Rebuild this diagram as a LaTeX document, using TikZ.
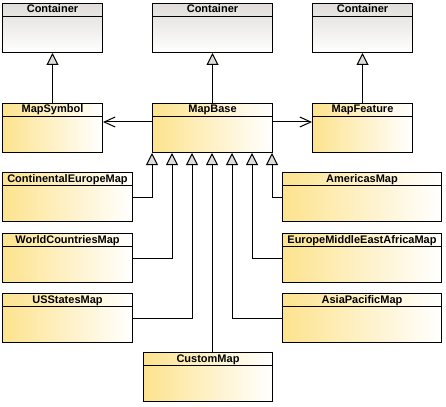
\documentclass[tikz,border=0pt]{standalone}
\usepackage{fontspec}
\setsansfont{Liberation Sans}
\usepackage{tikz}
\usetikzlibrary{arrows.meta,calc,shapes.multipart}
\definecolor{mapgold}{HTML}{FDE38E}
\definecolor{contgrey}{HTML}{E0DDDA}
\definecolor{trigrey}{HTML}{DEDCD9}

\newcommand{\clsname}[1]{\rule[-3pt]{0pt}{12pt}#1\nodepart{two}\rule{0pt}{35pt}}

\begin{document}
\begin{tikzpicture}[
    x=1pt, y=-1pt,
    box/.style={rectangle split, rectangle split parts=2, draw=black, line width=1pt, anchor=north west, inner xsep=0pt, inner ysep=0pt, font=\sffamily\bfseries\fontsize{11}{13}\selectfont},
    cls/.style={box, left color=mapgold, right color=white},
    cont/.style={box, top color=contgrey, bottom color=white},
    inherit/.style={draw=black, line width=1pt, -{Triangle[length=12pt, width=12pt, fill=trigrey]}},
    assoc/.style={draw=black, line width=1pt, -{Straight Barb[length=11pt, width=10pt]}}
]
\useasboundingbox (0,0) rectangle (446,406);

% Containers
\node[cont, minimum width=100pt] (cont1) at (2,3) {\clsname{Container}};
\node[cont, minimum width=120pt] (cont2) at (152,3) {\clsname{Container}};
\node[cont, minimum width=100pt] (cont3) at (312,3) {\clsname{Container}};

% Middle row
\node[cls, minimum width=100pt] (sym) at (2,103) {\clsname{MapSymbol}};
\node[cls, minimum width=120pt] (base) at (152,103) {\clsname{MapBase}};
\node[cls, minimum width=100pt] (feat) at (312,103) {\clsname{MapFeature}};

% Maps
\node[cls, minimum width=130pt] (cem) at (2,172) {\clsname{ContinentalEuropeMap}};
\node[cls, minimum width=130pt] (wcm) at (2,233) {\clsname{WorldCountriesMap}};
\node[cls, minimum width=130pt] (usm) at (2,293) {\clsname{USStatesMap}};
\node[cls, minimum width=159pt] (amm) at (282,172) {\clsname{AmericasMap}};
\node[cls, minimum width=159pt] (emea) at (282,233) {\clsname{EuropeMiddleEastAfricaMap}};
\node[cls, minimum width=159pt] (apm) at (282,293) {\clsname{AsiaPacificMap}};
\node[cls, minimum width=129pt] (cust) at (143,352) {\clsname{CustomMap}};

% Inheritance
\draw[inherit] (sym.north) -- (cont1.south);
\draw[inherit] (base.north) -- (cont2.south);
\draw[inherit] (feat.north) -- (cont3.south);

\foreach \i in {0,...,6}
    \coordinate (b\i) at ($(base.south west)+(20*\i,0)$);
\draw[inherit] (cem.east) -| (b0);
\draw[inherit] (wcm.east) -| (b1);
\draw[inherit] (usm.east) -| (b2);
\draw[inherit] (b3 |- cust.north) -- (b3);
\draw[inherit] (apm.west) -| (b4);
\draw[inherit] (emea.west) -| (b5);
\draw[inherit] (amm.west) -| (b6);

% Associations
\draw[assoc] ([yshift=-19pt]base.north west) -- ([yshift=-19pt]sym.north east);
\draw[assoc] ([yshift=-19pt]base.north east) -- ([yshift=-19pt]feat.north west);
\end{tikzpicture}
\end{document}
